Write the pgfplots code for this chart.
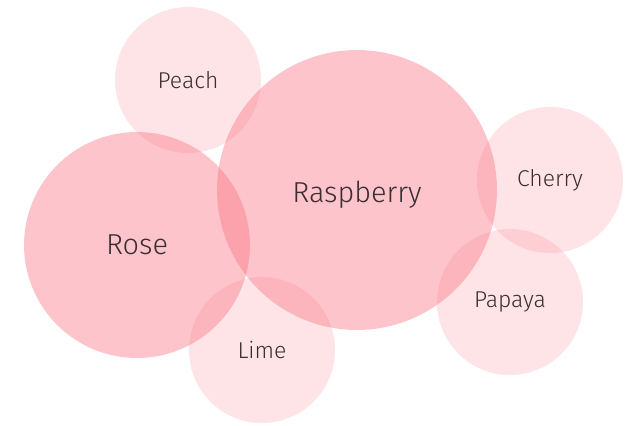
\documentclass[border=0pt]{standalone}
\usepackage{pgfplots}
\pgfplotsset{compat=1.18}
\usepackage{fontspec}
\setmainfont{Fira Sans Light}
\definecolor{bubble}{RGB}{250,110,125}
\definecolor{labeltext}{RGB}{58,46,50}
\pgfplotsset{
  small bubble/.style={only marks, mark=*, mark size=73.3pt, color=bubble,
    mark options={draw=bubble, draw opacity=0, fill=bubble, fill opacity=0.19},
    nodes near coords align={center},
    every node near coord/.append style={font=\fontsize{23}{27}\selectfont, text=labeltext, text opacity=1}},
  big bubble/.style={only marks, mark=*, color=bubble,
    mark options={draw=bubble, draw opacity=0, fill=bubble, fill opacity=0.4},
    nodes near coords align={center},
    every node near coord/.append style={font=\fontsize{29}{34}\selectfont, text=labeltext, text opacity=1}},
}
\begin{document}
\begin{tikzpicture}
\begin{axis}[
  x=1bp, y=1bp,
  xmin=0, xmax=631, ymin=0, ymax=425,
  y dir=reverse,
  hide axis,
  scale only axis,
  clip=false,
]
\addplot[small bubble, nodes near coords={Peach}] coordinates {(188,80)};
\addplot[small bubble, nodes near coords={Cherry}] coordinates {(550,180)};
\addplot[small bubble, nodes near coords={Papaya}] coordinates {(510,302)};
\addplot[small bubble, nodes near coords={Lime}] coordinates {(262,350)};
\addplot[big bubble, mark size=140.5pt, nodes near coords={Raspberry},
  every node near coord/.append style={yshift=-5pt}] coordinates {(357,190)};
\addplot[big bubble, mark size=113.4pt, nodes near coords={Rose}] coordinates {(137,245)};
\end{axis}
\useasboundingbox (current axis.south west) rectangle (current axis.north east);
\end{tikzpicture}
\end{document}
